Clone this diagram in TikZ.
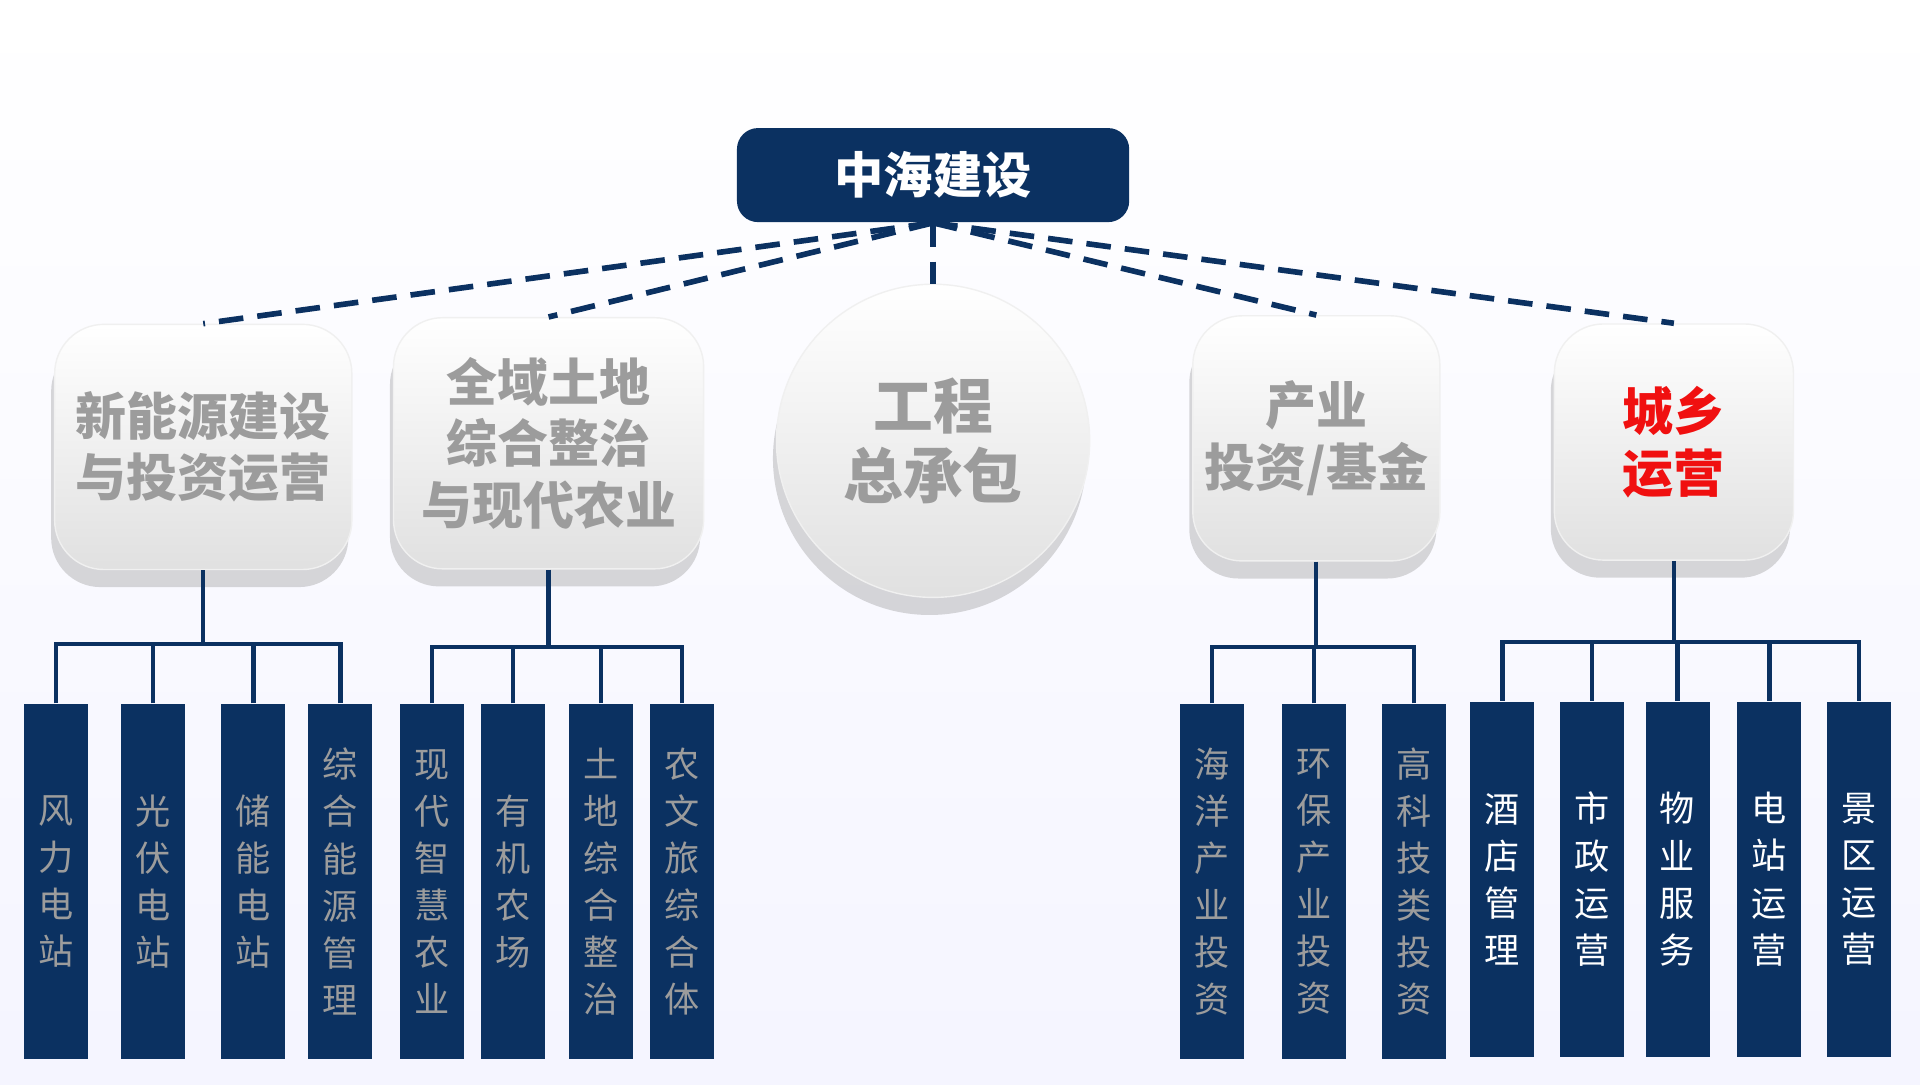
\documentclass[tikz,border=0pt]{standalone}
\usepackage{fontspec}
\setmainfont{Noto Sans CJK SC}
\usetikzlibrary{shadows}
\definecolor{navy}{HTML}{0B3161}
\definecolor{txtgray}{HTML}{9C9C9C}
\definecolor{cityred}{HTML}{F01010}
\tikzset{
  head/.style={fill=navy, rounded corners=6pt, minimum width=3.92cm, minimum height=0.94cm,
    text=white, font=\bfseries\fontsize{14}{16}\selectfont},
  card/.style={rounded corners=14pt, top color=white, bottom color=gray!24, draw=gray!12,
    drop shadow={opacity=0.3, shadow xshift=-1pt, shadow yshift=-5pt},
    text=txtgray, font=\bfseries\fontsize{14.5}{17.5}\selectfont, align=center},
  leaf/.style={fill=navy, minimum width=0.64cm, minimum height=3.55cm, inner sep=0pt,
    align=center, text=txtgray, font=\fontsize{10}{13.4}\selectfont},
  link/.style={navy, line width=1.2pt},
  spoke/.style={navy, line width=1.6pt, dash pattern=on 7pt off 4pt}
}
\begin{document}
\begin{tikzpicture}[x=0.01224cm, y=-0.01224cm]
  \useasboundingbox (0,0) rectangle (1568,886);
  \shade[top color=white, bottom color=blue!4] (0,0) rectangle (1568,886);
  % top
  \node[head] (top) at (762,143) {中海建设};
  % cards
  \node[card, minimum width=2.97cm, minimum height=2.45cm] (b1) at (166,365) {新能源建设\\与投资运营};
  \node[card, minimum width=3.1cm, minimum height=2.51cm] (b2) at (448,362) {全域土地\\综合整治\\与现代农业};
  \node[card, circle, minimum size=3.13cm, font=\bfseries\fontsize{17}{20}\selectfont] (b3) at (762,360) {工程\\总承包};
  \node[card, minimum width=2.45cm, minimum height=2.45cm] (b4) at (1075,358) {产业\\投资/基金};
  \node[card, minimum width=2.39cm, minimum height=2.36cm, text=cityred] (b5) at (1367,361) {城乡\\运营};
  % dashed spokes
  \foreach \b in {b1,b2,b3,b4,b5}
    \draw[spoke] (top.south) -- (\b.north);
  % junctions
  \draw[link] (b1.south) -- ++(0,60) coordinate (j1);
  \draw[link] (b2.south) -- ++(0,63) coordinate (j2);
  \draw[link] (b4.south) -- ++(0,70) coordinate (j4);
  \draw[link] (b5.south) -- ++(0,66) coordinate (j5);
  % leaves
  \foreach \x/\t [count=\i] in {46/{风\\力\\电\\站}, 125/{光\\伏\\电\\站}, 207/{储\\能\\电\\站}, 278/{综\\合\\能\\源\\管\\理}} {
    \node[leaf] (a\i) at (\x,720) {\t};
    \draw[link] (a\i.north) |- (j1);
  }
  \foreach \x/\t [count=\i] in {353/{现\\代\\智\\慧\\农\\业}, 419/{有\\机\\农\\场}, 491/{土\\地\\综\\合\\整\\治}, 557/{农\\文\\旅\\综\\合\\体}} {
    \node[leaf] (c\i) at (\x,720) {\t};
    \draw[link] (c\i.north) |- (j2);
  }
  \foreach \x/\t [count=\i] in {990/{海\\洋\\产\\业\\投\\资}, 1073/{环\\保\\产\\业\\投\\资}, 1155/{高\\科\\技\\类\\投\\资}} {
    \node[leaf] (d\i) at (\x,720) {\t};
    \draw[link] (d\i.north) |- (j4);
  }
  \foreach \x/\t [count=\i] in {1227/{酒\\店\\管\\理}, 1300/{市\\政\\运\\营}, 1370/{物\\业\\服\\务}, 1445/{电\\站\\运\\营}, 1518/{景\\区\\运\\营}} {
    \node[leaf, text=white] (e\i) at (\x,718) {\t};
    \draw[link] (e\i.north) |- (j5);
  }
\end{tikzpicture}
\end{document}
